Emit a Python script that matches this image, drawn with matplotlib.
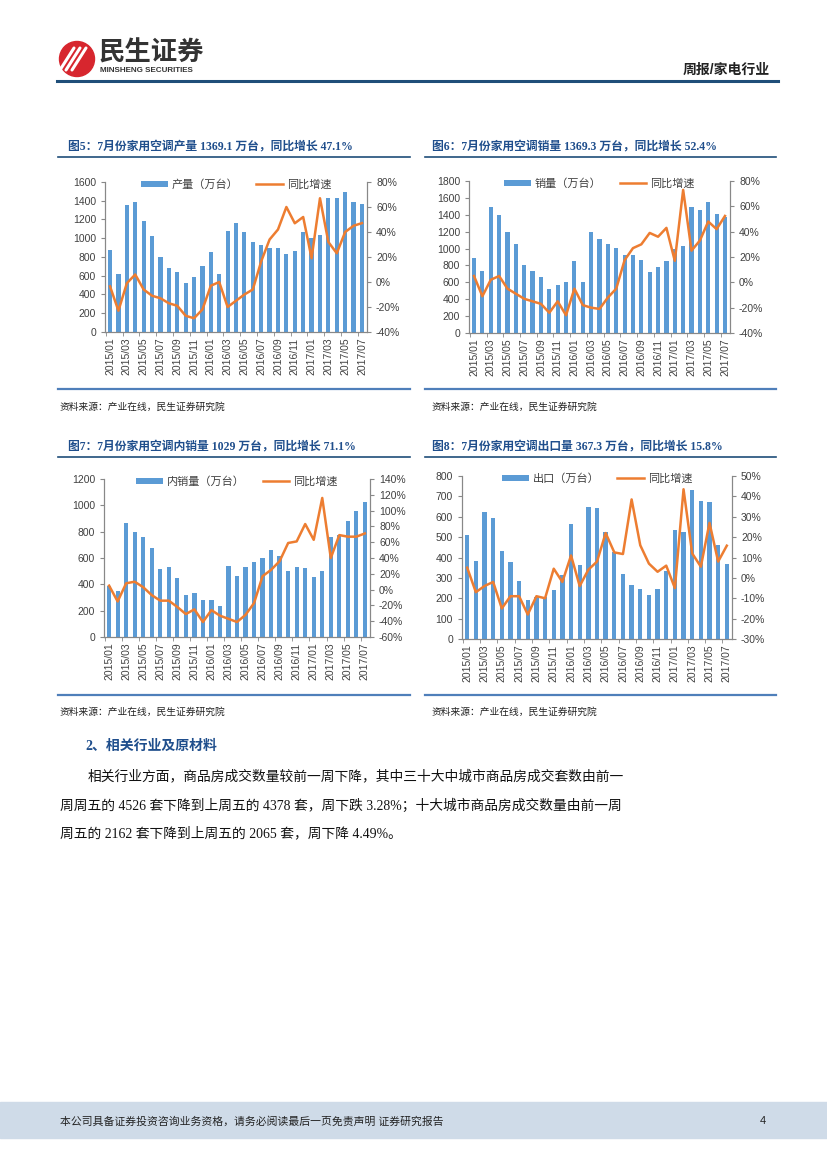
import matplotlib.pyplot as plt
import numpy as np
from matplotlib.lines import Line2D
from matplotlib.patches import Rectangle, Circle
from matplotlib.ticker import FuncFormatter, MultipleLocator

plt.rcParams['font.family'] = ['Liberation Sans', 'Noto Sans CJK SC', 'DejaVu Sans']

W, H = 827, 1169
BLUE = '#5b9bd5'
ORANGE = '#ed7d31'
NAVY = '#1f4e8c'
TXT = '#404040'
SERIF = ['Liberation Serif', 'Noto Sans CJK SC', 'DejaVu Sans']

# months 2015/01 .. 2017/07
months = [f"{y}/{m:02d}" for y in (2015, 2016, 2017) for m in range(1, 13)][:31]

# fig 5: production (10k units) and yoy %
prod = [875, 620, 1350, 1390, 1185, 1025, 805, 680, 635, 520, 585, 700,
        855, 620, 1075, 1165, 1065, 960, 930, 900, 895, 830, 860, 1065,
        1000, 1030, 1425, 1430, 1490, 1390, 1369.1]
prod_yoy = [-3.5, -23, -1, 6, -6, -11, -13, -17, -19, -27, -29, -22,
            -3, 0, -20, -15, -10, -6, 16.5, 34, 42, 60, 47, 52,
            19, 67, 32, 23, 40, 45, 47.1]

# fig 6: sales
sales = [890, 740, 1490, 1400, 1195, 1053, 806, 731, 664, 519, 570, 601,
         853, 601, 1195, 1108, 1057, 1002, 920, 920, 861, 723, 778, 853,
         990, 1030, 1490, 1462, 1555, 1415, 1369.3]
sales_yoy = [5, -11, 2, 5, -5, -9, -13, -15, -17, -24, -15, -26,
             -5, -18, -20, -21, -12, -5, 17.5, 27, 30, 39, 36, 43,
             17, 73, 25, 33, 48, 42, 52.4]

# fig 7: domestic sales
dom = [385, 351, 869, 798, 758, 677, 518, 535, 449, 321, 333, 283,
       283, 232, 540, 465, 530, 573, 598, 662, 616, 505, 530, 523,
       457, 505, 758, 778, 881, 957, 1029]
dom_yoy = [5, -15, 8, 10, 3, -7, -14, -14, -22, -31, -25, -41,
           -26, -33, -37, -41, -32, -17, 17, 25, 36, 59, 61, 83,
           63, 116, 40, 69, 67, 67, 71.1]

# fig 8: export
exp_ = [510, 385, 625, 596, 432, 378, 284, 190, 208, 208, 240, 312,
        566, 363, 648, 643, 526, 428, 318, 263, 247, 214, 245, 333,
        536, 523, 730, 677, 670, 459, 367.3]
exp_yoy = [5, -7, -4, -2, -15, -9, -9, -18, -9, -10, 4.5, -2,
           11, -4, 4, 8, 22, 12.5, 11.7, 38.5, 16, 7, 3, 6,
           -5, 43.5, 12, 5.5, 27, 8, 15.8]


def box(x0, y0, x1, y1):
    return [x0 / W, 1 - y1 / H, (x1 - x0) / W, (y1 - y0) / H]


def ftext(x, y, s, **kw):
    fig.text(x / W, 1 - y / H, s, va='center', **kw)


def hline(x0, x1, y, **kw):
    fig.add_artist(Line2D([x0 / W, x1 / W], [1 - y / H, 1 - y / H], **kw))


def draw_chart(rect, bars, yoy, bar_label, ymax, ystep, pmin, pmax, pstep):
    ax = fig.add_axes(box(*rect))
    x = np.arange(len(months))
    b = ax.bar(x, bars, width=0.5, color=BLUE, label=bar_label)
    ax.set_xlim(-0.6, len(months) - 0.4)
    ax.set_ylim(0, ymax)
    ax.yaxis.set_major_locator(MultipleLocator(ystep))
    ax.set_xticks(x[::2])
    ax.set_xticklabels(months[::2], rotation=90)
    ax.set_xticks(np.arange(-0.5, len(months), 2), minor=True)
    ax.tick_params(axis='x', which='major', length=0, pad=4, labelsize=7.5, colors=TXT)
    ax.tick_params(axis='x', which='minor', length=3, color='#888888')
    ax.tick_params(axis='y', length=3, labelsize=7.5, colors=TXT, color='#888888')

    ax2 = ax.twinx()
    ln, = ax2.plot(x, yoy, color=ORANGE, lw=1.8, label='同比增速')
    ax2.set_ylim(pmin, pmax)
    ax2.yaxis.set_major_locator(MultipleLocator(pstep))
    ax2.yaxis.set_major_formatter(FuncFormatter(lambda v, p: f"{v:.0f}%"))
    ax2.tick_params(axis='y', length=3, labelsize=7.5, colors=TXT, color='#888888')

    for a in (ax, ax2):
        a.spines['top'].set_visible(False)
        for s in ('left', 'right', 'bottom'):
            a.spines[s].set_color('#888888')
            a.spines[s].set_linewidth(0.8)

    ax2.legend([b, ln], [bar_label, '同比增速'], loc='center',
               bbox_to_anchor=(0.5, 0.985), ncol=2, frameon=False,
               fontsize=8, handlelength=2.4, handleheight=0.45,
               handletextpad=0.35, columnspacing=1.6, labelcolor=TXT,
               borderpad=0, borderaxespad=0)
    return ax


fig = plt.figure(figsize=(W / 100, H / 100), dpi=100)

# header
logo = fig.add_axes(box(58, 40, 96, 78))
logo.set_xlim(0, 38)
logo.set_ylim(0, 38)
logo.axis('off')
logo.add_patch(Circle((19, 19), 17.5, color='#d7262e'))
for dx in (-6, 0, 6):
    logo.plot([8 + dx, 22 + dx], [8, 30], color='white', lw=2.2, solid_capstyle='round')
ftext(99, 53, '民生证券', fontsize=19, fontweight='bold', color='#333333')
ftext(100, 71, 'MINSHENG SECURITIES', fontsize=5.8, fontweight='bold', color='#333333')
ftext(770, 70, '周报/家电行业', fontsize=10, fontweight='bold', color='#222222', ha='right')
hline(57, 778, 81, color='#1f4e79', lw=2.2)

# chart frames and titles
titles = [
    (68, 147, '图5：7月份家用空调产量 1369.1 万台，同比增长 47.1%'),
    (432, 147, '图6：7月份家用空调销量 1369.3 万台，同比增长 52.4%'),
    (68, 447, '图7：7月份家用空调内销量 1029 万台，同比增长 71.1%'),
    (432, 447, '图8：7月份家用空调出口量 367.3 万台，同比增长 15.8%'),
]
for tx, ty, t in titles:
    ftext(tx, ty, t, fontsize=8.5, fontweight='bold', color=NAVY, family=SERIF)
for y_top, y_bot in ((157, 389), (457, 695)):
    hline(58, 410, y_top, color='#1f4e79', lw=1.2)
    hline(425, 776, y_top, color='#1f4e79', lw=1.2)
    hline(58, 410, y_bot, color='#4f7fba', lw=1.6)
    hline(425, 776, y_bot, color='#4f7fba', lw=1.6)
for sy in (407, 712):
    ftext(60, sy, '资料来源：产业在线，民生证券研究院', fontsize=7, color='#222222')
    ftext(432, sy, '资料来源：产业在线，民生证券研究院', fontsize=7, color='#222222')

draw_chart((105, 182, 367, 332), prod, prod_yoy, '产量（万台）', 1600, 200, -40, 80, 20)
draw_chart((469, 181, 730, 333), sales, sales_yoy, '销量（万台）', 1800, 200, -40, 80, 20)
draw_chart((104, 479, 370, 637), dom, dom_yoy, '内销量（万台）', 1200, 200, -60, 140, 20)
draw_chart((462, 476, 732, 639), exp_, exp_yoy, '出口（万台）', 800, 100, -30, 50, 10)

# section text
ftext(85, 746, '2、相关行业及原材料', fontsize=10, fontweight='bold', color=NAVY, family=SERIF)
ftext(88, 776, '相关行业方面，商品房成交数量较前一周下降，其中三十大中城市商品房成交套数由前一',
      fontsize=9.9, color='#111111', family=SERIF)
ftext(60, 806, '周周五的 4526 套下降到上周五的 4378 套，周下跌 3.28%；十大城市商品房成交数量由前一周',
      fontsize=9.9, color='#111111', family=SERIF)
ftext(60, 833, '周五的 2162 套下降到上周五的 2065 套，周下降 4.49%。',
      fontsize=9.9, color='#111111', family=SERIF)

# footer
fig.add_artist(Rectangle((0, 1 - 1138 / H), 1, 36 / H, transform=fig.transFigure,
                         color='#cfdbe8', zorder=0))
ftext(60, 1121, '本公司具备证券投资咨询业务资格，请务必阅读最后一页免责声明 证券研究报告',
      fontsize=7.8, color='#222222')
ftext(766, 1121, '4', fontsize=8, color='#222222', ha='right')

fig.savefig('out.png', dpi=100)
